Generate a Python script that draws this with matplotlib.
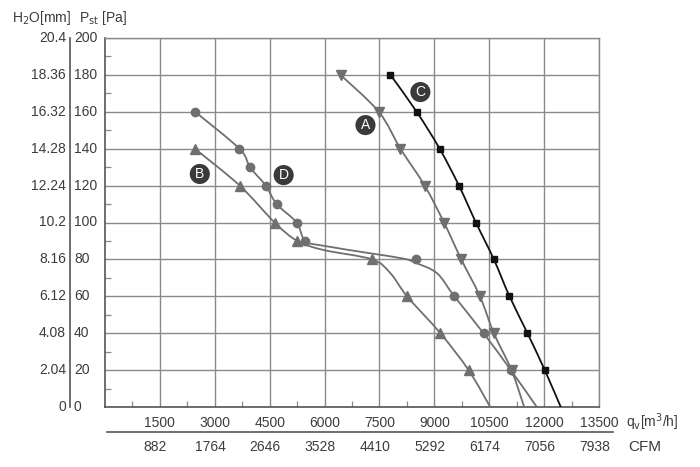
import matplotlib
matplotlib.use("Agg")
import matplotlib.pyplot as plt
import matplotlib.transforms as mtransforms
from matplotlib.path import Path
from matplotlib.patches import PathPatch
import numpy as np

plt.rcParams['font.family'] = ['Liberation Sans', 'DejaVu Sans']

# ---- data ----
pa_ticks = [0, 20, 40, 60, 80, 100, 120, 140, 160, 180, 200]
h2o_labels = ['0', '2.04', '4.08', '6.12', '8.16', '10.2', '12.24', '14.28', '16.32', '18.36', '20.4']
qv_ticks = [1500, 3000, 4500, 6000, 7500, 9000, 10500, 12000, 13500]
cfm_labels = ['882', '1764', '2646', '3528', '4410', '5292', '6174', '7056', '7938']

# curve A (down triangles)
a_flow = [6436, 7482, 8073, 8736, 9264, 9736, 10245, 10627, 11109]
a_pres = [180, 160, 140, 120, 100, 80, 60, 40, 20]
a_line_flow = [6436, 7482, 8073, 8736, 9264, 9736, 10245, 10627, 11109, 11455]
a_line_pres = [180, 160, 140, 120, 100, 80, 60, 40, 20, 0]

# curve C (squares)
c_flow = [7800, 8518, 9145, 9673, 10136, 10627, 11054, 11545, 12018]
c_pres = [180, 160, 140, 120, 100, 80, 60, 40, 20]
c_line_flow = c_flow + [12455]
c_line_pres = c_pres + [0]

# curve D (circles)
d_flow = [2463, 3673, 3963, 4391, 4691, 5236, 5473, 8491, 9545, 10345, 11091]
d_pres = [160, 140, 130, 120, 110, 100, 90, 80, 60, 40, 20]
d_line_flow = [2463, 3673, 3963, 4391, 4691, 5236, 5473, 6000, 7255, 8163, 8482, 9073, 9545, 10345, 11091, 11800]
d_line_pres = [160, 140, 130, 120, 110, 100, 90, 87.3, 83.3, 80.4, 78.2, 72.5, 60, 40, 20, 0]

# curve B (up triangles)
b_flow = [2455, 3682, 4636, 5255, 7300, 8255, 9164, 9936]
b_pres = [140, 120, 100, 90, 80, 60, 40, 20]
b_line_flow = [2455, 3682, 4636, 5255, 5973, 7300, 7800, 8255, 9164, 9936, 10527]
b_line_pres = [140, 120, 100, 90, 85.1, 80, 72.5, 60, 40, 20, 0]

# curve tags
tag_names = ['A', 'B', 'C', 'D']
tag_flow = [7118, 2591, 8618, 4882]
tag_pres = [152.8, 126.3, 170.7, 125.7]

gray = '#6f6f6f'
txt = '#3c3c3c'
grid_c = '#8a8a8a'


def smooth_path(ax, xs, ys):
    # cubic bezier through the points (catmull-rom tangents), built in display space
    pts = ax.transData.transform(np.column_stack([xs, ys]))
    verts = [pts[0]]
    codes = [Path.MOVETO]
    n = len(pts)
    for i in range(n - 1):
        p0 = pts[i - 1] if i > 0 else pts[i]
        p1 = pts[i]
        p2 = pts[i + 1]
        p3 = pts[i + 2] if i + 2 < n else pts[i + 1]
        c1 = p1 + (p2 - p0) / 6.0
        c2 = p2 - (p3 - p1) / 6.0
        verts += [c1, c2, p2]
        codes += [Path.CURVE4] * 3
    return Path(verts, codes)


fig = plt.figure(figsize=(7, 4.67), dpi=100)
ax = fig.add_axes([105/700, 1-407/467, 494/700, 369/467])

ax.set_xlim(0, 13500)
ax.set_ylim(0, 200)
ax.set_xticks(qv_ticks)
ax.set_yticks(pa_ticks)
ax.set_xticks(np.array(qv_ticks) - 750, minor=True)
ax.set_yticks(np.array(pa_ticks[1:]) - 10, minor=True)
ax.grid(True, which='major', color=grid_c, linewidth=1.0)
ax.tick_params(which='major', length=0, labelbottom=False, labelleft=False)
ax.tick_params(which='minor', direction='in', length=4, color=grid_c, width=0.9)
for side in ['top', 'right']:
    ax.spines[side].set_color(grid_c)
    ax.spines[side].set_linewidth(1.0)
for side in ['left', 'bottom']:
    ax.spines[side].set_color('#555555')
    ax.spines[side].set_linewidth(1.2)

# curves
for lx, ly, col in [(b_line_flow, b_line_pres, gray), (d_line_flow, d_line_pres, gray),
                    (a_line_flow, a_line_pres, gray), (c_line_flow, c_line_pres, '#111111')]:
    patch = PathPatch(smooth_path(ax, lx, ly), transform=None, fc='none', ec=col, lw=1.3, zorder=3)
    ax.add_artist(patch)
    patch.set_clip_path(ax.patch)

ax.plot(b_flow, b_pres, ls='none', marker='^', ms=6.5, color=gray, zorder=4)
ax.plot(d_flow, d_pres, ls='none', marker='o', ms=6, color=gray, zorder=4)
ax.plot(a_flow, a_pres, ls='none', marker='v', ms=6.5, color=gray, zorder=4)
ax.plot(c_flow, c_pres, ls='none', marker='s', ms=5, color='#111111', zorder=4)

for name, fx, py in zip(tag_names, tag_flow, tag_pres):
    ax.text(fx, py, name, ha='center', va='center', color='white', fontsize=10,
            zorder=5, bbox=dict(boxstyle='circle,pad=0.22', fc='#3a3a3a', ec='none'))

# left scales
trans_y = mtransforms.blended_transform_factory(fig.transFigure, ax.transData)
fig.add_artist(plt.Line2D([70/700, 70/700], [1-407/467, 1-38/467], transform=fig.transFigure,
                          color='#555555', lw=1.2))
for p, h in zip(pa_ticks, h2o_labels):
    fig.text(66/700, p, h, transform=trans_y, ha='right', va='center', fontsize=10, color=txt)
    fig.text(74/700, p, str(p), transform=trans_y, ha='left', va='center', fontsize=10, color=txt)
fig.text(12/700, 1-18/467, r'H$_2$O[mm]', ha='left', va='center', fontsize=10, color=txt)
fig.text(79/700, 1-18/467, r'P$_{\rm st}$ [Pa]', ha='left', va='center', fontsize=10, color=txt)

# bottom scales
trans_x = mtransforms.blended_transform_factory(ax.transData, fig.transFigure)
for q, c in zip(qv_ticks, cfm_labels):
    fig.text(q, 1-423/467, str(q), transform=trans_x, ha='center', va='center', fontsize=10, color=txt)
    fig.text(q - 120, 1-447/467, c, transform=trans_x, ha='center', va='center', fontsize=10, color=txt)
fig.add_artist(plt.Line2D([107/700, 613/700], [1-432/467, 1-432/467], transform=fig.transFigure,
                          color='#555555', lw=1.2))
fig.text(626/700, 1-422/467, r'q$_{\rm v}$[m$^3$/h]', ha='left', va='center', fontsize=10, color=txt)
fig.text(628/700, 1-447/467, 'CFM', ha='left', va='center', fontsize=11, color=txt)

fig.savefig('out.png', dpi=100, facecolor='white')
